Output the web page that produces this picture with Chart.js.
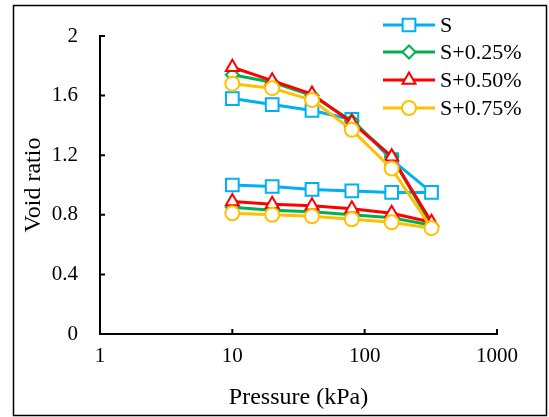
<!DOCTYPE html>
<html>
<head>
<meta charset="utf-8">
<script src="https://cdn.jsdelivr.net/npm/chart.js@4/dist/chart.umd.min.js"></script>
<style>
  html, body { margin: 0; padding: 0; background: #fff; }
  #wrap { width: 549px; height: 417px; }
</style>
</head>
<body>
<div id="wrap"><canvas id="chart" width="549" height="417"></canvas></div>
<script>
// pressure steps: loading 10 -> 320, then unloading back to 10
const pressure = [10, 20, 40, 80, 160, 320, 160, 80, 40, 20, 10];

const voidS   = [1.58, 1.54, 1.50, 1.44, 1.17, 0.95, 0.95, 0.96, 0.97, 0.99, 1.00];
const voidS25 = [1.74, 1.69, 1.60, 1.43, 1.19, 0.73, 0.78, 0.80, 0.82, 0.83, 0.85];
const voidS50 = [1.79, 1.70, 1.61, 1.42, 1.19, 0.75, 0.81, 0.84, 0.86, 0.87, 0.89];
const voidS75 = [1.68, 1.65, 1.57, 1.37, 1.11, 0.71, 0.75, 0.77, 0.79, 0.80, 0.81];

const seriesLabels = ['S', 'S+0.25%', 'S+0.50%', 'S+0.75%'];
const xTicks = [1, 10, 100, 1000];
const yTicks = [0, 0.4, 0.8, 1.2, 1.6, 2];
const yTickLabels = ['0', '0.4', '0.8', '1.2', '1.6', '2'];

const SERIF = '"Liberation Serif", "Times New Roman", serif';

const pts = ys => ys.map((y, i) => ({ x: pressure[i], y }));

const styles = [
    { color: '#00B0F0', point: 'rect',     radius: 9,   order: 4 },
    { color: '#00B050', point: 'rectRot',  radius: 6.5, order: 3 },
    { color: '#FF0000', point: 'triangle', radius: 7.5, order: 2 },
    { color: '#FFC000', point: 'circle',   radius: 7,   order: 1 },
];

const datasets = [voidS, voidS25, voidS50, voidS75].map((vals, i) => ({
    label: seriesLabels[i],
    data: pts(vals),
    borderColor: styles[i].color,
    backgroundColor: '#fff',
    borderWidth: 3,
    pointStyle: styles[i].point,
    pointRadius: styles[i].radius,
    pointBorderWidth: 2,
    pointBorderColor: styles[i].color,
    pointBackgroundColor: '#fff',
    tension: 0,
    order: styles[i].order,
}));

// white page, outer frame, inward ticks, legend
const decor = {
    id: 'decor',
    beforeDraw(chart) {
        const c = chart.ctx;
        c.save();
        c.fillStyle = '#fff';
        c.fillRect(0, 0, chart.width, chart.height);
        c.restore();
    },
    afterDatasetsDraw(chart) {
        const c = chart.ctx;
        const xs = chart.scales.x, ys = chart.scales.y;
        c.save();
        c.strokeStyle = '#000';
        c.lineWidth = 2;
        c.beginPath();
        xs.ticks.forEach((t, i) => {
            const px = xs.getPixelForTick(i);
            c.moveTo(px, ys.bottom);
            c.lineTo(px, ys.bottom - 5);
        });
        ys.ticks.forEach((t, i) => {
            const py = ys.getPixelForTick(i);
            c.moveTo(xs.left, py);
            c.lineTo(xs.left + 5, py);
        });
        c.stroke();

        // legend
        const lx0 = 383, lx1 = 435, tx = 440;
        const rows = [25, 52, 80, 108];
        chart.data.datasets.forEach((ds, i) => {
            const y = rows[i];
            c.strokeStyle = ds.borderColor;
            c.lineWidth = 3;
            c.beginPath();
            c.moveTo(lx0, y);
            c.lineTo(lx1, y);
            c.stroke();
            c.fillStyle = '#fff';
            c.strokeStyle = ds.borderColor;
            c.lineWidth = 2;
            Chart.helpers.drawPoint(c, {
                pointStyle: ds.pointStyle,
                radius: ds.pointRadius,
                rotation: 0,
                borderWidth: 2,
            }, (lx0 + lx1) / 2, y);
            c.fillStyle = '#000';
            c.font = '22px ' + SERIF;
            c.textAlign = 'left';
            c.textBaseline = 'middle';
            c.fillText(ds.label, tx, y + 1);
        });

        // outer frame
        c.strokeStyle = '#000';
        c.lineWidth = 1.5;
        c.strokeRect(13.5, 5.5, 533, 410);
        c.restore();
    }
};

new Chart(document.getElementById('chart'), {
    type: 'line',
    data: { datasets },
    options: {
        responsive: false,
        animation: false,
        layout: { padding: { left: 14, top: 36, right: 52, bottom: 3 } },
        plugins: {
            legend: { display: false },
            tooltip: { enabled: false },
        },
        scales: {
            x: {
                type: 'logarithmic',
                min: 1,
                max: 1000,
                afterBuildTicks: s => { s.ticks = xTicks.map(v => ({ value: v })); },
                afterFit: s => { s.height = 80; },
                grid: { display: false, drawTicks: false },
                border: { display: true, color: '#000', width: 2 },
                ticks: {
                    color: '#000',
                    padding: 10,
                    maxRotation: 0,
                    font: { family: SERIF, size: 21 },
                    callback: v => String(v),
                },
                title: {
                    display: true,
                    text: 'Pressure (kPa)',
                    color: '#000',
                    font: { family: SERIF, size: 24 },
                    padding: { top: 0, bottom: 2 },
                },
            },
            y: {
                min: 0,
                max: 2,
                afterBuildTicks: s => { s.ticks = yTicks.map(v => ({ value: v })); },
                afterFit: s => { s.width = 86; },
                grid: { display: false, drawTicks: false },
                border: { display: true, color: '#000', width: 2 },
                ticks: {
                    color: '#000',
                    padding: 22,
                    font: { family: SERIF, size: 21 },
                    callback: (v, i) => yTickLabels[i],
                },
                title: {
                    display: true,
                    text: 'Void ratio',
                    color: '#000',
                    font: { family: SERIF, size: 24 },
                    padding: { top: 5, bottom: 0 },
                },
            },
        },
    },
    plugins: [decor],
});
</script>
</body>
</html>
